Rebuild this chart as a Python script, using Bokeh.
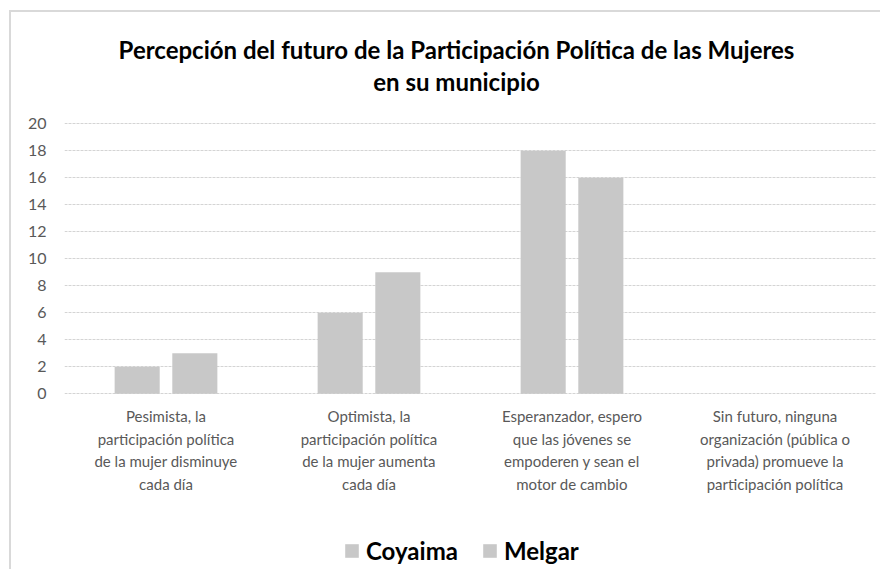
from bokeh.plotting import figure
from bokeh.models import (FactorRange, Range1d, Legend, LegendItem, Label,
                          ColumnDataSource, FixedTicker)
from bokeh.core.properties import value
from bokeh.transform import dodge
from bokeh.embed import file_html
from bokeh.resources import INLINE

# ---- data ----
categories = [
    "Pesimista, la\nparticipación política\nde la mujer disminuye\ncada día",
    "Optimista, la\nparticipación política\nde la mujer aumenta\ncada día",
    "Esperanzador, espero\nque las jóvenes se\nempoderen y sean el\nmotor de cambio",
    "Sin futuro, ninguna\norganización (pública o\nprivada) promueve la\nparticipación política",
]
coyaima = [2, 6, 18, 0]
melgar = [3, 9, 16, 0]
series_names = ["Coyaima", "Melgar"]
y_ticks = [0, 2, 4, 6, 8, 10, 12, 14, 16, 18, 20]
title_lines = ["Percepción del futuro de la Participación Política de las Mujeres",
               "en su municipio"]

# ---- styling / layout constants ----
FONT = "Lato"
GRAY_TXT = "#595959"
BAR = "#c8c8c8"
GRID = "#d4d4d4"
EDGE = "#d9d9d9"

W, H = 880, 569
LEFT, RIGHT = 64, 4            # frame left / right borders (px)
ZERO_PX = 393.3                # pixel row of value 0
PX_PER_UNIT = 13.5             # pixels per value unit
PX_PER_CAT = (W - LEFT - RIGHT) / len(categories)

def y_at(px):                  # pixel row -> data value
    return (ZERO_PX - px) / PX_PER_UNIT

def x_at(px):                  # pixel column -> categorical synthetic coordinate
    return (px - LEFT) / PX_PER_CAT

source = ColumnDataSource(dict(cat=categories, coyaima=coyaima, melgar=melgar))

p = figure(width=W, height=H,
           x_range=FactorRange(*categories),
           y_range=Range1d(y_at(H), y_at(0)),
           x_axis_location=None,
           output_backend="svg", toolbar_location=None,
           min_border_left=LEFT, min_border_right=RIGHT,
           min_border_top=0, min_border_bottom=0)
p.border_fill_color = None
p.background_fill_color = None
p.outline_line_color = None
p.styles = {
    "background": (f"linear-gradient({EDGE},{EDGE}) 9px 10px / 100% 2px no-repeat, "
                   f"linear-gradient({EDGE},{EDGE}) 9px 10px / 2px 100% no-repeat, white"),
}

bw = 0.222
off = 0.142
r1 = p.vbar(x=dodge("cat", -off, range=p.x_range), top="coyaima", width=bw,
            source=source, fill_color=BAR, line_color=None)
r2 = p.vbar(x=dodge("cat", off, range=p.x_range), top="melgar", width=bw,
            source=source, fill_color=BAR, line_color=None)

# grid
p.xgrid.visible = False
p.ygrid.ticker = FixedTicker(ticks=y_ticks)
p.ygrid.grid_line_color = GRID
p.ygrid.grid_line_dash = "3 1"
p.ygrid.grid_line_width = 1

# y axis
p.yaxis.ticker = FixedTicker(ticks=y_ticks)
p.yaxis.axis_line_color = None
p.yaxis.major_tick_line_color = None
p.yaxis.minor_tick_line_color = None
p.yaxis.major_tick_out = 0
p.yaxis.major_label_standoff = 18
p.yaxis.major_label_text_font = FONT
p.yaxis.major_label_text_font_size = "16px"
p.yaxis.major_label_text_color = GRAY_TXT

# category labels under the bars
p.text(x="cat", y=y_at(406.5), text="cat", source=source,
       text_align="center", text_baseline="top",
       text_font=value(FONT), text_font_size="15px",
       text_color=GRAY_TXT, text_line_height=1.26)

# title (two centred lines)
for txt, base in zip(title_lines, [49.0, 80.5]):
    p.add_layout(Label(x=x_at(456), y=y_at(base), text=txt,
                       text_align="center", text_baseline="alphabetic",
                       text_font=FONT, text_font_style="bold",
                       text_font_size="24px", text_color="#000000"))

# legend
legend = Legend(items=[LegendItem(label=series_names[0], renderers=[r1]),
                       LegendItem(label=series_names[1], renderers=[r2])],
                location=(343 - LEFT, 4), orientation="horizontal",
                glyph_width=17, glyph_height=17, label_standoff=6, spacing=23,
                padding=0, margin=0,
                label_text_font=FONT, label_text_font_style="bold",
                label_text_font_size="24px", label_text_color="#000000",
                border_line_color=None, background_fill_alpha=0)
p.add_layout(legend)

open("out.html", "w").write(file_html(p, INLINE))
